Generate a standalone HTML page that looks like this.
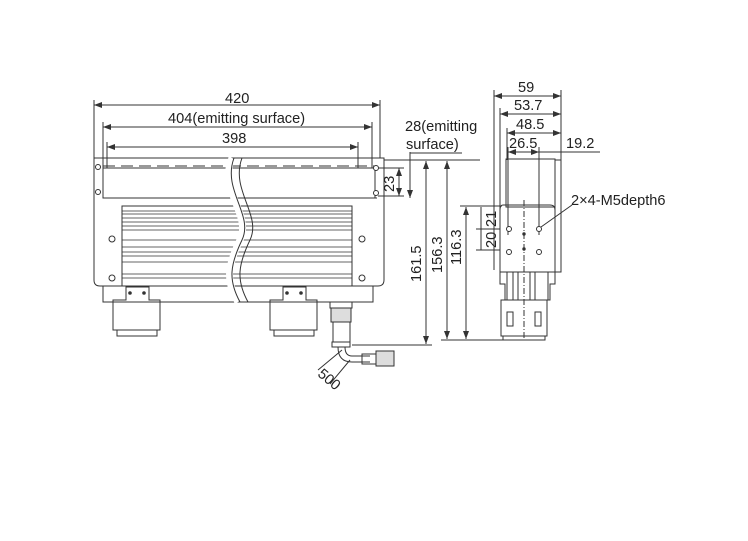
<!DOCTYPE html>
<html><head><style>body{margin:0;background:#fff}svg{display:block}text{font-family:"Liberation Sans",sans-serif;font-size:14.6px;fill:#222}</style></head>
<body>
<svg width="748" height="541" viewBox="0 0 748 541" xmlns="http://www.w3.org/2000/svg" stroke="#333" stroke-width="1" fill="none">
<defs><marker id="a" markerWidth="8" markerHeight="6" refX="8" refY="3" orient="auto-start-reverse"><path d="M0,0 L8,3 L0,6" fill="#333" stroke="none"/></marker></defs>
<g marker-start="url(#a)" marker-end="url(#a)">
<line x1="94" y1="105" x2="380" y2="105"/>
<line x1="103" y1="127" x2="372" y2="127"/>
<line x1="107" y1="147" x2="358" y2="147"/>
</g>
<line x1="94" y1="100" x2="94" y2="158"/><line x1="380" y1="100" x2="380" y2="158"/>
<line x1="103" y1="122" x2="103" y2="168"/><line x1="372" y1="122" x2="372" y2="168"/>
<line x1="107" y1="142" x2="107" y2="168"/><line x1="358" y1="142" x2="358" y2="168"/>
<g stroke="none"><text x="225" y="103">420</text><text x="168" y="123">404(emitting surface)</text><text x="222" y="143">398</text></g>
<path d="M94,158 H384 V280 Q384,286 378,286 H352 V206 H122 V286 H100 Q94,286 94,280 Z"/>
<rect x="103" y="168" width="272" height="30"/>
<line x1="103" y1="166" x2="377" y2="166" stroke-dasharray="12,6"/>
<line x1="103" y1="198" x2="377" y2="198" stroke-dasharray="12,6"/>
<rect x="122" y="206" width="230" height="80"/>
<g stroke-width="0.8">
<line x1="122" y1="211" x2="352" y2="211"/><line x1="122" y1="214" x2="352" y2="214"/><line x1="122" y1="218" x2="352" y2="218"/><line x1="122" y1="222" x2="352" y2="222"/><line x1="122" y1="226" x2="352" y2="226"/><line x1="122" y1="230" x2="352" y2="230"/><line x1="122" y1="240" x2="352" y2="240"/><line x1="122" y1="247" x2="352" y2="247"/><line x1="122" y1="252" x2="352" y2="252"/><line x1="122" y1="256" x2="352" y2="256"/><line x1="122" y1="262" x2="352" y2="262"/><line x1="122" y1="274" x2="352" y2="274"/><line x1="122" y1="278" x2="352" y2="278"/>
</g>
<rect x="103" y="286" width="270" height="16"/>
<g fill="#fff"><circle cx="98" cy="167" r="2.5"/><circle cx="98" cy="192" r="2.5"/><circle cx="376" cy="168" r="2.5"/><circle cx="376" cy="193" r="2.5"/><circle cx="112" cy="239" r="3"/><circle cx="112" cy="278" r="3"/><circle cx="362" cy="239" r="3"/><circle cx="362" cy="278" r="3"/></g>
<path d="M232,158 C218,190 252,215 240,240 C228,265 225,280 238,302" stroke="#fff" stroke-width="7"/>
<path d="M234,158 C222,190 254,215 242,240 C230,265 228,280 240,302"/><path d="M242,158 C230,190 262,215 250,240 C238,265 236,280 248,302"/>
<path d="M126,287 H149 V300 H160 V330 H113 V300 H126 Z"/><rect x="117" y="330" width="40" height="6"/>
<path d="M283,287 H306 V300 H317 V330 H270 V300 H283 Z"/><rect x="274" y="330" width="40" height="6"/>
<g fill="#333"><circle cx="130" cy="293" r="1.3"/><circle cx="144" cy="293" r="1.3"/><circle cx="287" cy="293" r="1.3"/><circle cx="301" cy="293" r="1.3"/></g>
<rect x="330" y="302" width="22" height="6"/><rect x="331" y="308" width="20" height="14" fill="#ddd"/>
<path d="M333,322 V342 H350 V322"/><rect x="332" y="342" width="18" height="5"/>
<path d="M338,347 Q338,362 352,362 H370 M345,347 Q345,356 352,356 H370"/>
<rect x="362" y="354" width="14" height="10"/><rect x="376" y="351" width="18" height="15" fill="#ddd"/>
<line x1="342" y1="350" x2="318" y2="370"/><line x1="350" y1="360" x2="330" y2="384"/>
<text x="318" y="380" transform="rotate(40 324 376)" stroke="none">500</text>
<line x1="384" y1="160" x2="480" y2="160"/>
<line x1="378" y1="168" x2="404" y2="168"/><line x1="378" y1="196" x2="404" y2="196"/>
<line x1="399" y1="168" x2="399" y2="196" marker-start="url(#a)" marker-end="url(#a)"/>
<text x="0" y="0" transform="translate(394,192) rotate(-90)" stroke="none">23</text>
<line x1="410" y1="160" x2="410" y2="198" marker-end="url(#a)"/><line x1="410" y1="160" x2="410" y2="152"/><line x1="410" y1="153" x2="462" y2="153"/>
<text x="405" y="131" stroke="none">28(emitting</text><text x="406" y="149" stroke="none">surface)</text>
<line x1="426" y1="161" x2="426" y2="344" marker-start="url(#a)" marker-end="url(#a)"/><line x1="352" y1="345" x2="432" y2="345"/>
<text transform="translate(421,282) rotate(-90)" stroke="none">161.5</text>
<line x1="447" y1="161" x2="447" y2="339" marker-start="url(#a)" marker-end="url(#a)"/><line x1="441" y1="340" x2="505" y2="340"/>
<text transform="translate(442,273) rotate(-90)" stroke="none">156.3</text>
<line x1="466" y1="207" x2="466" y2="339" marker-start="url(#a)" marker-end="url(#a)"/><line x1="460" y1="206" x2="502" y2="206"/>
<text transform="translate(461,265) rotate(-90)" stroke="none">116.3</text>
<line x1="481" y1="207" x2="481" y2="250"/><line x1="476" y1="229" x2="500" y2="229"/><line x1="476" y1="250" x2="500" y2="250"/>
<text transform="translate(496,227) rotate(-90)" stroke="none">21</text><text transform="translate(496,248) rotate(-90)" stroke="none">20</text>
<g marker-start="url(#a)" marker-end="url(#a)">
<line x1="494" y1="96" x2="561" y2="96"/><line x1="500" y1="114" x2="561" y2="114"/><line x1="507" y1="133" x2="561" y2="133"/><line x1="508" y1="152" x2="539" y2="152"/>
</g>
<line x1="539" y1="152" x2="600" y2="152"/>
<line x1="494" y1="90" x2="494" y2="270"/><line x1="561" y1="90" x2="561" y2="160"/><line x1="500" y1="108" x2="500" y2="270"/><line x1="507" y1="128" x2="507" y2="160"/><line x1="508" y1="147" x2="508" y2="235"/><line x1="539" y1="147" x2="539" y2="235"/>
<g stroke="none"><text x="518" y="92">59</text><text x="514" y="110">53.7</text><text x="516" y="129">48.5</text><text x="509" y="148">26.5</text><text x="566" y="148">19.2</text><text x="571" y="205">2×4-M5depth6</text></g>
<rect x="506" y="159" width="49" height="48"/><rect x="555" y="160" width="6" height="112"/>
<path d="M503,205 H550 Q555,205 555,210 V272 H500 V210 Q500,205 503,205 Z"/>
<line x1="524" y1="200" x2="524" y2="340" stroke-dasharray="6,2,1,2"/>
<g fill="#fff"><circle cx="509" cy="229" r="2.5"/><circle cx="539" cy="229" r="2.5"/><circle cx="509" cy="252" r="2.5"/><circle cx="539" cy="252" r="2.5"/></g>
<g fill="#333"><circle cx="524" cy="234" r="1.2"/><circle cx="524" cy="249" r="1.2"/></g>
<line x1="541" y1="227" x2="572" y2="205"/>
<path d="M500,272 V284 H505 V300 H507 V272 M555,272 V284 H550 V300 H548 V272"/>
<line x1="513" y1="272" x2="513" y2="300"/><line x1="518" y1="272" x2="518" y2="300"/><line x1="530" y1="272" x2="530" y2="300"/><line x1="535" y1="272" x2="535" y2="300"/>
<rect x="501" y="300" width="46" height="36"/><rect x="507" y="312" width="6" height="14"/><rect x="535" y="312" width="6" height="14"/>
<rect x="503" y="336" width="42" height="4"/>
</svg>
</body></html>
